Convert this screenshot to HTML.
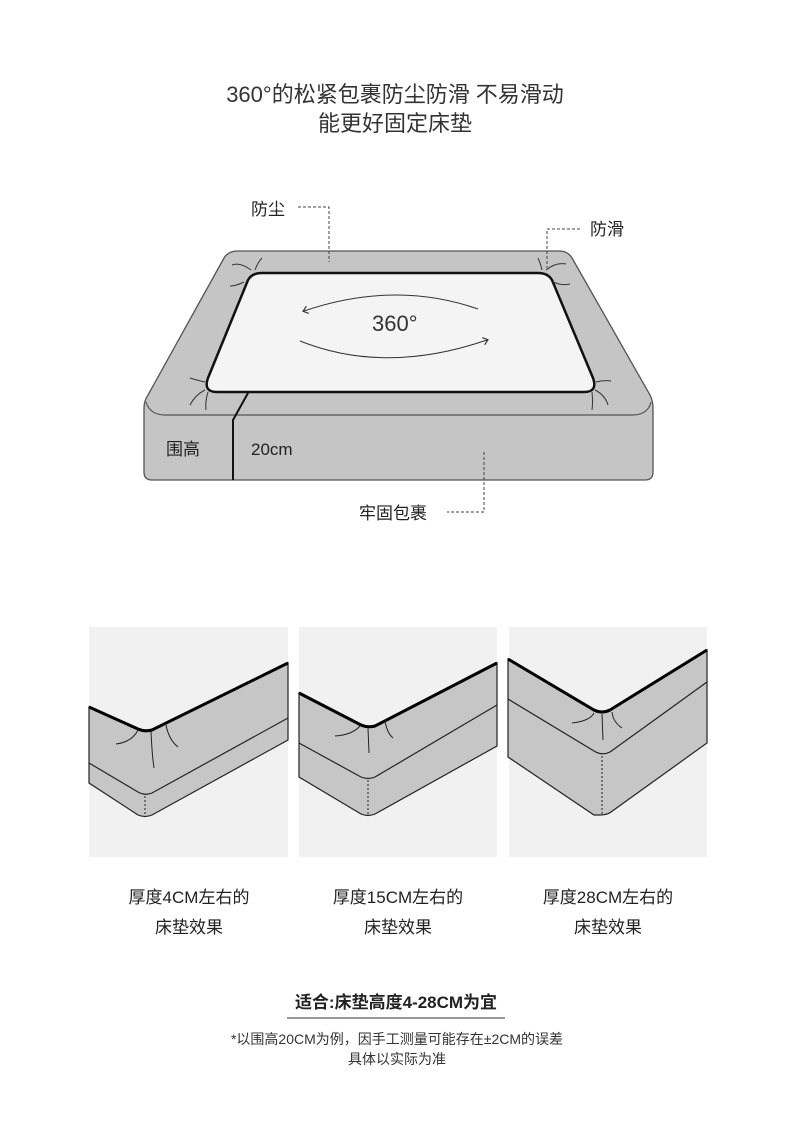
<!DOCTYPE html>
<html><head><meta charset="utf-8"><style>
body{margin:0;background:#fff;width:790px;height:1138px;overflow:hidden;font-family:"Liberation Sans","Noto Sans CJK SC",sans-serif;color:#222}
svg{position:absolute;left:0;top:0}
.t{position:absolute;text-align:center;width:790px;left:0}
</style></head><body>
<div class="t" style="top:80px;font-size:22px;line-height:29px;color:#333">360°的松紧包裹防尘防滑 不易滑动<br>能更好固定床垫</div>
<svg width="790" height="1138" viewBox="0 0 790 1138">
<defs><marker id="a" markerWidth="8" markerHeight="8" refX="4" refY="4" orient="auto"><path d="M0,0 L5,4 L0,8" fill="none" stroke="#333" stroke-width="1.2"/></marker></defs>
<path d="M238,251 L559,251 Q568,251 572,258 L650,395 Q653,401 653,408 L653,472 Q653,480 645,480 L152,480 Q144,480 144,472 L144,408 Q144,401 148,395 L224,258 Q228,251 238,251Z" fill="#c5c5c5" stroke="#555" stroke-width="1.3"/>
<path d="M146,402 Q150,415 165,415 L632,415 Q648,415 651,402" fill="none" stroke="#555" stroke-width="1.2"/>
<path d="M262,273 L538,273 Q548,273 552,280 L593,378 Q598,392 584,392 L217,392 Q203,392 208,378 L248,280 Q252,273 262,273Z" fill="#f4f4f4" stroke="#111" stroke-width="2.5"/>
<path d="M248,393 L233,420 L233,480" fill="none" stroke="#111" stroke-width="2"/>
<g fill="none" stroke="#333" stroke-width="1"><path d="M251,270 Q240,262 232,265"/><path d="M255,270 Q258,262 262,258"/><path d="M244,282 Q236,286 230,286"/><path d="M546,270 Q556,262 566,264"/><path d="M542,270 Q540,262 538,258"/><path d="M553,282 Q562,286 570,284"/><path d="M205,390 Q195,395 190,405"/><path d="M208,392 Q205,402 206,410"/><path d="M205,382 Q196,380 190,378"/><path d="M595,390 Q605,395 608,405"/><path d="M592,392 Q593,402 592,410"/><path d="M596,382 Q604,380 611,381"/></g>
<path d="M478,309 Q395,280 304,311" fill="none" stroke="#333" stroke-width="1" marker-end="url(#a)"/>
<path d="M300,341 Q385,375 487,340" fill="none" stroke="#333" stroke-width="1" marker-end="url(#a)"/>
<g fill="none" stroke="#444" stroke-width="1" stroke-dasharray="3,2"><path d="M298,207 L329,207 L329,262"/><path d="M580,229 L547,229 L547,268"/><path d="M484,452 L484,512 L447,512"/></g>
<text x="372" y="331" font-size="22" fill="#333" font-family="Liberation Sans,sans-serif">360°</text>
<text x="251" y="215" font-size="17" fill="#222" font-family="Liberation Sans,Noto Sans CJK SC,sans-serif">防尘</text>
<text x="590" y="235" font-size="17" fill="#222" font-family="Liberation Sans,Noto Sans CJK SC,sans-serif">防滑</text>
<text x="166" y="455" font-size="17" fill="#222" font-family="Liberation Sans,Noto Sans CJK SC,sans-serif">围高</text>
<text x="251" y="455" font-size="17" fill="#222" font-family="Liberation Sans,sans-serif">20cm</text>
<text x="359" y="519" font-size="17" fill="#222" font-family="Liberation Sans,Noto Sans CJK SC,sans-serif">牢固包裹</text>
<rect x="89" y="627" width="199" height="230" fill="#f1f1f1"/>
<rect x="299" y="627" width="198" height="230" fill="#f1f1f1"/>
<rect x="509" y="627" width="198" height="230" fill="#f1f1f1"/>
<g stroke="#222" stroke-width="1.2">
<path d="M89,707 L138,729 Q145,732 152,730 L288,663 L288,740 L152,815 Q145,818 138,815 L89,783Z" fill="#c6c6c6"/>
<path d="M89,763 L138,792 Q145,796 152,793 L288,718" fill="none"/>
<path d="M299,693 L361,725 Q368,728 375,726 L497,663 L497,746 L375,814 Q368,817 361,814 L299,777Z" fill="#c6c6c6"/>
<path d="M299,743 L361,777 Q368,780 375,777 L497,705" fill="none"/>
<path d="M508,659 L594,710 Q602,714 610,710 L707,650 L707,743 L611,812 Q607,815 600,815 L594,815 L508,757Z" fill="#c6c6c6"/>
<path d="M508,699 L594,751 Q602,756 610,752 L707,682" fill="none"/>
</g>
<g stroke="#000" stroke-width="3" fill="none"><path d="M89,707 L138,729 Q145,732 152,730 L288,663"/><path d="M299,693 L361,725 Q368,728 375,726 L497,663"/><path d="M508,659 L594,710 Q602,714 610,710 L707,650"/></g>
<g stroke="#222" stroke-width="1" fill="none" stroke-dasharray="2,2"><path d="M145,796 L145,816"/><path d="M368,780 L368,816"/><path d="M602,756 L602,815"/></g>
<g stroke="#222" stroke-width="1" fill="none"><path d="M138,730 Q132,742 116,744"/><path d="M151,731 Q152,755 154,768"/><path d="M166,725 Q169,740 178,747"/><path d="M360,726 Q352,735 335,736"/><path d="M368,728 L369,753"/><path d="M385,721 Q387,733 393,738"/><path d="M594,713 Q590,721 572,723"/><path d="M602,714 L603,740"/><path d="M612,712 Q613,722 622,728"/></g>
<line x1="287" y1="1018" x2="505" y2="1018" stroke="#333" stroke-width="1"/>
</svg>
<div class="t" style="top:883px;font-size:17px;line-height:30px;width:200px;left:89px">厚度4CM左右的<br>床垫效果</div>
<div class="t" style="top:883px;font-size:17px;line-height:30px;width:200px;left:298px">厚度15CM左右的<br>床垫效果</div>
<div class="t" style="top:883px;font-size:17px;line-height:30px;width:200px;left:508px">厚度28CM左右的<br>床垫效果</div>
<div class="t" style="top:988px;font-size:17px;font-weight:bold;left:1px;color:#222">适合:床垫高度4-28CM为宜</div>
<div class="t" style="top:1029px;font-size:14px;line-height:20px;left:2px;color:#333">*以围高20CM为例，因手工测量可能存在±2CM的误差<br>具体以实际为准</div>
</body></html>
